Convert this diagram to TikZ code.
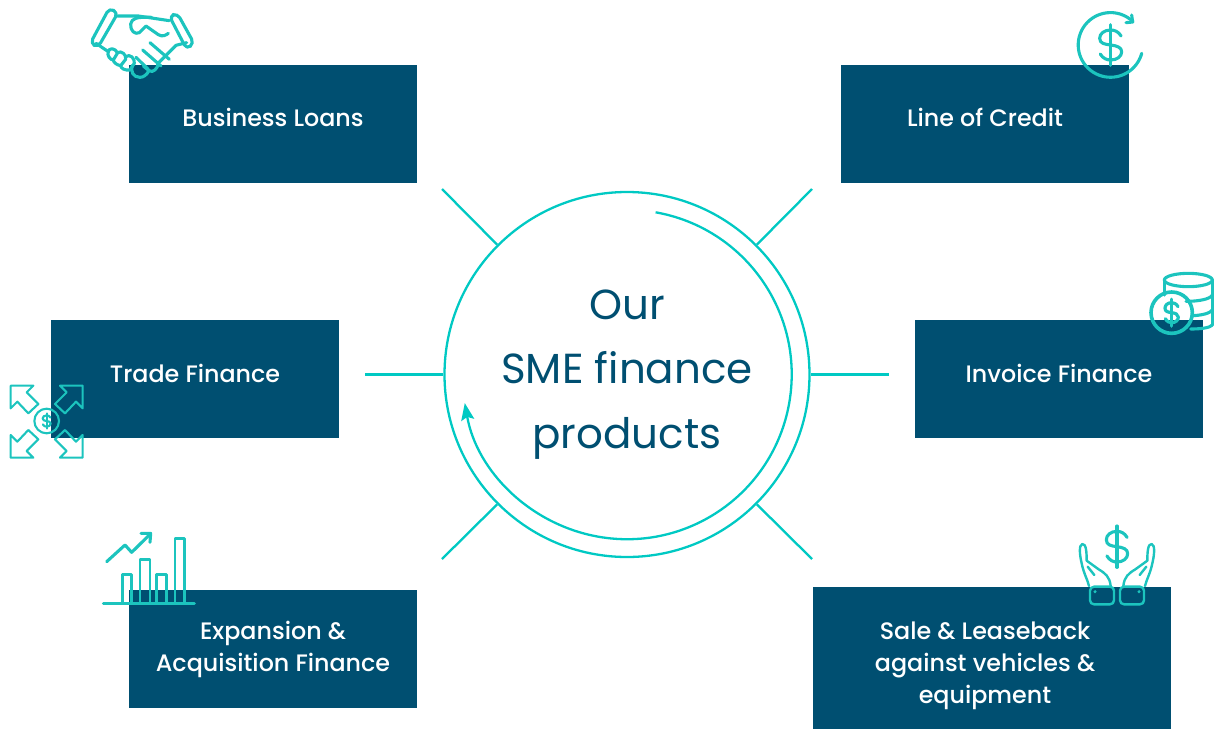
\documentclass[tikz,border=0pt]{standalone}
\usepackage{fontspec}
\setmainfont{Poppins}
\newfontfamily\labelfont{Poppins Medium}
\usetikzlibrary{arrows.meta}
\definecolor{navy}{HTML}{004F71}
\definecolor{tealline}{HTML}{00C9C3}
\definecolor{iconteal}{HTML}{1CC4BE}
\tikzset{
  box/.style={fill=navy,draw=none,inner sep=0pt,anchor=north west},
  boxlabel/.style={text=white,align=center,font=\labelfont\fontsize{23.8}{32}\selectfont,inner sep=0pt},
  spoke/.style={draw=tealline,line width=2.3pt},
  icon/.style={draw=iconteal,line width=2.1pt,line join=round,line cap=round},
  iconthick/.style={icon,line width=3.1pt},
  zoomed/.style={x=0.33333pt,y=-0.33333pt},
  pics/dollarsign/.style={code={
    \draw[pic actions] (0.95,-0.6) .. controls (0.7,-0.9) and (0.35,-1) .. (0,-1)
      .. controls (-0.6,-1) and (-1,-0.75) .. (-1,-0.45)
      .. controls (-1,-0.1) and (-0.55,-0.05) .. (0,0)
      .. controls (0.55,0.05) and (1,0.15) .. (1,0.45)
      .. controls (1,0.75) and (0.6,1) .. (0,1)
      .. controls (-0.35,1) and (-0.7,0.9) .. (-0.95,0.6);
    \draw[pic actions] (0,-1.35) -- (0,1.35);
  }},
  pics/openhand/.style={code={
    \draw[pic actions] (-84,198) .. controls (-88,180) and (-100,160) .. (-106,130)
      .. controls (-112,105) and (-115,75) .. (-104,72)
      .. controls (-92,70) and (-91,100) .. (-91,122)
      -- (-55,148) .. controls (-35,160) and (-22,170) .. (-19,198);
    \draw[pic actions] (-68,165) -- (-88,140);
    \draw[pic actions,rounded corners=4pt] (-81,200) -- (-9,200) -- (-9,253) -- (-81,253) -- cycle;
    \fill[iconteal] (-66,215) circle[radius=5];
  }}
}
\begin{document}
\begin{tikzpicture}[x=1pt,y=-1pt]
\useasboundingbox (0,0) rectangle (1219,729);
% boxes
\node[box,minimum width=288pt,minimum height=118pt] (bl) at (129,65) {};
\node[box,minimum width=288pt,minimum height=118pt] (lc) at (841,65) {};
\node[box,minimum width=288pt,minimum height=118pt] (tf) at (51,320) {};
\node[box,minimum width=288pt,minimum height=118pt] (if) at (915,320) {};
\node[box,minimum width=288pt,minimum height=118pt] (ea) at (129,590) {};
\node[box,minimum width=358pt,minimum height=142pt] (sl) at (813,587) {};
\node[boxlabel] (blt) at (273,117) {Business Loans};
\node[boxlabel] (lct) at (985,117) {Line of Credit};
\node[boxlabel] (tft) at (195,373) {Trade Finance};
\node[boxlabel] (ift) at (1059,373) {Invoice Finance};
\node[boxlabel] (eat) at (273,649) {Expansion \&\\Acquisition Finance};
\node[boxlabel] (slt) at (985,666) {Sale \& Leaseback\\against vehicles \&\\equipment};
% central circle
\node[circle,draw=tealline,line width=2.3pt,minimum size=365pt,inner sep=0pt,text=navy,align=center,
  font=\fontsize{42}{64.5}\selectfont] (c) at (627,374.5) {Our\\SME finance\\products};
% spokes
\coordinate (s1) at (442,189);
\coordinate (s2) at (812,189);
\coordinate (s3) at (365,374.5);
\coordinate (s4) at (889,374.5);
\coordinate (s5) at (442,559);
\coordinate (s6) at (812,559);
\draw[spoke] (s1) -- (c.135);
\draw[spoke] (s2) -- (c.45);
\draw[spoke] (s3) -- (c.180);
\draw[spoke] (s4) -- (c.0);
\draw[spoke] (s5) -- (c.225);
\draw[spoke] (s6) -- (c.315);
% inner arrow
\draw[spoke,-{Stealth[length=17pt,width=13pt,inset=3pt]}] (c.center) ++(-80:164.7) arc[start angle=-80,end angle=170,radius=164.7];
% handshake
\begin{scope}[shift={(80,0)},zoomed]
\draw[iconthick,rounded corners=5pt] (31,130) -- (88,24) -- (114,38) -- (54,142) -- cycle;
\draw[iconthick,rounded corners=5pt] (268,48) -- (292,40) -- (342,130) -- (320,148) -- cycle;
\draw[iconthick] (112,48) -- (175,48) -- (268,62);
\draw[iconthick] (215,52) .. controls (170,50) and (155,55) .. (152,72) .. controls (150,92) and (165,105) .. (178,98) -- (198,78) -- (235,104) .. controls (248,112) and (258,105) .. (265,100);
\draw[iconthick] (320,128) -- (288,136) -- (232,192);
\draw[iconthick] (210,128) -- (268,178);
\draw[iconthick] (188,150) -- (243,198);
\draw[iconthick] (48,130) -- (85,155);
\draw[iconthick] (85,155) .. controls (85,145) and (105,140) .. (112,160) -- (100,180) .. controls (90,180) and (80,165) .. (85,155);
\draw[iconthick] (112,158) .. controls (125,150) and (140,165) .. (137,178) -- (122,197) .. controls (108,195) and (100,185) .. (100,180);
\draw[iconthick] (137,170) .. controls (150,160) and (165,175) .. (163,190) -- (150,210) .. controls (135,212) and (122,205) .. (122,197);
\draw[iconthick] (158,195) .. controls (150,215) and (160,232) .. (180,232) .. controls (190,232) and (200,225) .. (207,212) -- (190,198);
\draw[iconthick] (207,212) .. controls (220,220) and (232,205) .. (235,192);
\draw[iconthick] (168,172) -- (205,208);
\end{scope}
% line of credit dollar
\begin{scope}[shift={(1060,0)},zoomed]
\draw[iconthick] (219,65) arc[start angle=-46,end angle=-345,radius=97];
\draw[iconthick] (198,68) -- (218,66) -- (215,45);
\pic[iconthick,xscale=33,yscale=45] at (152,135) {dollarsign};
\end{scope}
% coins
\begin{scope}[shift={(1130,260)},zoomed]
\draw[iconthick] (175,60) ellipse[x radius=72,y radius=20];
\draw[iconthick] (103,60) -- (103,105);
\draw[iconthick] (247,60) -- (247,195);
\draw[iconthick] (247,105) .. controls (240,118) and (205,124) .. (168,124);
\draw[iconthick] (247,150) .. controls (240,160) and (215,166) .. (188,167);
\draw[iconthick] (247,195) .. controls (240,203) and (215,207) .. (182,207);
\draw[iconthick,line width=3.6pt] (125,158) circle[radius=62];
\pic[iconthick,line width=3.2pt,xscale=20,yscale=30] at (125,158) {dollarsign};
\end{scope}
% trade arrows
\begin{scope}[shift={(0,375)},zoomed]
\draw[icon] (32,32) -- (100,32) -- (80,52) -- (115,87) -- (85,115) -- (52,80) -- (32,100) -- cycle;
\draw[icon] (248,32) -- (180,32) -- (200,52) -- (165,87) -- (195,115) -- (228,80) -- (248,100) -- cycle;
\draw[icon] (32,248) -- (100,248) -- (80,228) -- (115,193) -- (85,165) -- (52,200) -- (32,180) -- cycle;
\draw[icon] (248,248) -- (180,248) -- (200,228) -- (165,193) -- (195,165) -- (228,200) -- (248,180) -- cycle;
\draw[icon] (140,138) circle[radius=37];
\pic[icon,xscale=12,yscale=17] at (140,138) {dollarsign};
\end{scope}
% chart
\begin{scope}[shift={(95,525)},zoomed]
\draw[iconthick] (35,110) -- (90,60) -- (110,82) -- (165,28);
\draw[iconthick] (138,25) -- (167,25) -- (165,52);
\draw[icon,line width=2.6pt] (82,235) -- (82,148) -- (110,148) -- (110,235);
\draw[icon,line width=2.6pt] (135,235) -- (135,103) -- (165,103) -- (165,235);
\draw[icon,line width=2.6pt] (185,235) -- (185,148) -- (215,148) -- (215,235);
\draw[icon,line width=2.6pt] (240,235) -- (240,40) -- (268,40) -- (268,235);
\draw[iconthick] (25,235) -- (298,235);
\end{scope}
% hands
\begin{scope}[shift={(1065,520)},zoomed]
\pic[iconthick,xscale=32,yscale=46] at (156,80) {dollarsign};
\pic[icon,line width=2.4pt] at (156,0) {openhand};
\pic[icon,line width=2.4pt,xscale=-1] at (156,0) {openhand};
\end{scope}
\end{tikzpicture}
\end{document}
